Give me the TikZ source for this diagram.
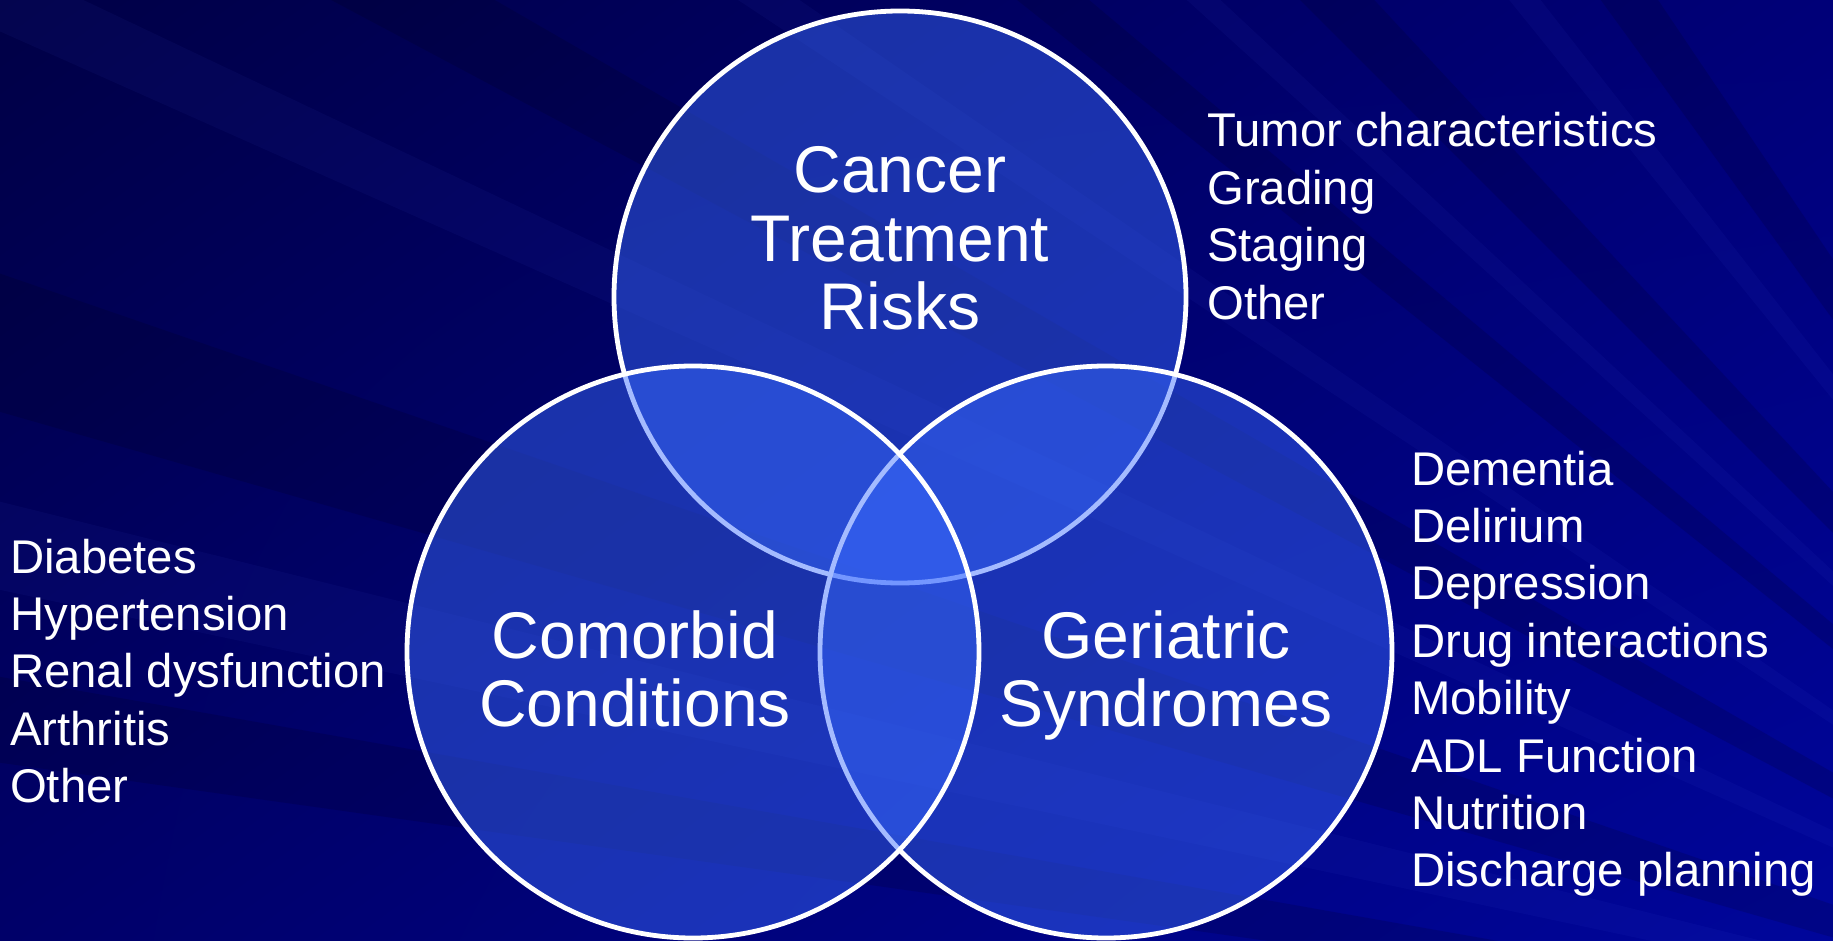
\documentclass[tikz,border=0pt]{standalone}
\usepackage{fontspec}
\setmainfont{Liberation Sans}
\usetikzlibrary{shadings}
\definecolor{bgUL}{RGB}{0,0,70}
\definecolor{bgUR}{RGB}{0,0,120}
\definecolor{bgLL}{RGB}{0,0,105}
\definecolor{bgLR}{RGB}{0,6,155}
\definecolor{vennfill}{RGB}{58,108,255}
\definecolor{raylight}{RGB}{90,110,255}
\begin{document}
\begin{tikzpicture}[x=1pt,y=1pt,
  venn/.style={circle, minimum size=572pt, inner sep=0pt, outer sep=0pt,
    draw=white, line width=4.8pt, fill=vennfill, fill opacity=0.46},
  titletxt/.style={text=white, inner sep=0pt, anchor=base,
    font=\fontsize{66}{68.5}\selectfont},
  listtxt/.style={text=white, inner sep=0pt, anchor=base west,
    font=\fontsize{47.3}{57.4}\selectfont},
  darkray/.style={fill=black, opacity=0.13},
  lightray/.style={fill=raylight, opacity=0.05}]
\useasboundingbox (0,0) rectangle (1833,-941);
\begin{scope}
  \clip (0,0) rectangle (1833,-941);
  \shade[upper left=bgUL, upper right=bgUR, lower left=bgLL, lower right=bgLR]
    (0,0) rectangle (1833,-941);
  \coordinate (F) at (2400,-1100);
  \foreach \a/\b in {161/164, 150/152, 140/141.5, 133/135, 124/126, 170/172}
    \fill[darkray] (F) -- +(\a:4200) -- +(\b:4200) -- cycle;
  \foreach \a/\b in {154.6/156, 128/129, 145.5/146.5, 166/168, 137/137.8}
    \fill[lightray] (F) -- +(\a:4200) -- +(\b:4200) -- cycle;
\end{scope}

\node[venn] (ctr) at (900,-297) {};
\node[venn] (ger) at (1106,-652) {};
\node[venn] (com) at (693,-652) {};

\node[titletxt] (tcancer) at (900,-193)
  {\begin{tabular}[t]{@{}c@{}}Cancer\\Treatment\\Risks\end{tabular}};
\node[titletxt] (tcomorbid) at (635,-658)
  {\begin{tabular}[t]{@{}c@{}}Comorbid\\Conditions\end{tabular}};
\node[titletxt] (tgeriatric) at (1166,-658)
  {\begin{tabular}[t]{@{}c@{}}Geriatric\\Syndromes\end{tabular}};

\node[listtxt] (ltumor) at (1207,-147)
  {\begin{tabular}[t]{@{}l@{}}Tumor characteristics\\Grading\\Staging\\Other\end{tabular}};
\node[listtxt] (lgeri) at (1411,-485)
  {\begin{tabular}[t]{@{}l@{}}Dementia\\Delirium\\Depression\\Drug interactions\\Mobility\\ADL Function\\Nutrition\\Discharge planning\end{tabular}};
\node[listtxt] (lcomo) at (10,-573)
  {\begin{tabular}[t]{@{}l@{}}Diabetes\\Hypertension\\Renal dysfunction\\Arthritis\\Other\end{tabular}};
\end{tikzpicture}
\end{document}
